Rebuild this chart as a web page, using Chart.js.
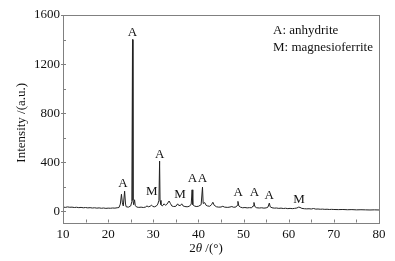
<!DOCTYPE html>
<html><head><meta charset="utf-8">
<script src="https://cdn.jsdelivr.net/npm/chart.js@4/dist/chart.umd.min.js"></script>
<style>html,body{margin:0;padding:0;background:#fff}canvas{display:block}</style>
</head><body>
<canvas id="c" width="395" height="261"></canvas>
<script>
// 2theta positions (degrees)
const twoTheta = [10,10.5,11,11.5,12,12.5,13,13.5,14,14.5,15,15.5,16,16.5,17,17.5,18,18.5,19,19.5,20,20.5,21,21.5,22,22.4,22.7,22.95,23.15,23.35,23.65,23.85,24.0,24.5,25.0,25.25,25.4,25.5,25.65,25.85,26.0,26.3,26.8,27.3,27.8,28.3,28.6,28.9,29.3,29.6,29.9,30.3,30.7,31.0,31.25,31.4,31.5,31.7,32.0,32.4,32.7,33.0,33.5,33.8,34.1,34.5,35.0,35.4,35.6,36.0,36.3,36.6,37.0,37.5,38.0,38.4,38.6,38.75,39.1,39.5,40.0,40.6,40.9,41.05,41.4,41.7,42.0,42.5,42.9,43.2,43.5,44.0,44.5,45.0,45.4,45.8,46.5,47.0,47.4,47.8,48.3,48.6,48.75,48.95,49.3,49.8,50.3,50.8,51.3,51.8,52.1,52.3,52.5,52.9,53.5,54.0,54.5,55.0,55.4,55.7,55.9,56.3,56.8,57.3,57.8,58.3,58.8,59.3,59.8,60.3,60.8,61.3,61.8,62.2,62.5,62.9,63.5,64.0,64.5,65.0,65.5,66.0,66.5,67,67.5,68,68.5,69,69.5,70,71,72,73,74,75,76,77,78,79,80];
// intensity (a.u.)
const intensity = [36,33,37,34,35,32,34,31,33,30,32,29,31,28,30,27,29,26,28,25,27,26,28,27,30,32,60,140,70,45,165,60,38,35,45,80,1400,90,55,95,50,36,33,35,32,36,45,38,42,52,40,38,45,60,90,410,90,55,45,62,50,58,85,65,45,40,42,62,50,48,62,45,40,38,42,60,176,55,45,40,42,55,198,65,72,50,45,42,55,75,50,38,35,36,42,35,33,36,40,34,36,50,82,45,35,30,32,29,31,30,45,73,40,30,28,30,27,29,35,68,38,30,27,28,25,27,24,26,23,25,23,25,28,35,33,25,22,21,22,20,24,19,20,18,19,17,18,16,17,16,15,16,14,15,13,14,13,12,13,12];
// peak labels
const peakText = ['A','A','M','A','M','A','A','A','A','A','M'];
const peakX    = [23.3,25.4,29.65,31.4,35.9,38.65,40.9,48.8,52.4,55.7,62.3];
const peakY    = [225,1460,163,461,141,271,271,155,155,128,95];
// axis ticks
const xTicks = [10,20,30,40,50,60,70,80];
const xMinor = [15,25,35,45,55,65,75];
const yTicks = [0,400,800,1200,1600];
const yMinor = [200,600,1000,1400];
const legendLines = ['A: anhydrite','M: magnesioferrite'];

const serif = "'Liberation Serif','Times New Roman',serif";
const pts = twoTheta.map((x,i)=>({x:x,y:intensity[i]}));

const deco = {
  id:'deco',
  afterDraw(chart){
    const ctx = chart.ctx, a = chart.chartArea;
    const xs = chart.scales.x, ys = chart.scales.y;
    ctx.save();
    ctx.strokeStyle = '#808080'; ctx.lineWidth = 1;
    ctx.strokeRect(Math.round(a.left)+0.5, Math.round(a.top)+0.5, Math.round(a.right-a.left), Math.round(a.bottom-a.top));
    ctx.beginPath();
    xTicks.concat(xMinor).forEach(v=>{const p=Math.round(xs.getPixelForValue(v))+0.5; ctx.moveTo(p,a.bottom); ctx.lineTo(p,a.bottom-3);});
    yTicks.forEach(v=>{const p=Math.round(ys.getPixelForValue(v))+0.5; ctx.moveTo(a.left-2,p); ctx.lineTo(a.left+3,p);});
    yMinor.forEach(v=>{const p=Math.round(ys.getPixelForValue(v))+0.5; ctx.moveTo(a.left,p); ctx.lineTo(a.left+3,p);});
    ctx.stroke();
    ctx.fillStyle = '#111';
    ctx.font = '13px '+serif;
    ctx.textAlign='center'; ctx.textBaseline='middle';
    peakText.forEach((t,i)=>ctx.fillText(t, xs.getPixelForValue(peakX[i]), ys.getPixelForValue(peakY[i])));
    ctx.textAlign='left';
    legendLines.forEach((t,i)=>ctx.fillText(t, 273, 31+i*17));
    // x title: 2θ/(°)
    const parts=[['2','13px '+serif],['θ','italic 13px '+serif],[' /(°)','13px '+serif]];
    let w=0; parts.forEach(p=>{ctx.font=p[1]; w+=ctx.measureText(p[0]).width;});
    let x0=206 - w/2;
    parts.forEach(p=>{ctx.font=p[1]; ctx.fillText(p[0],x0,249); x0+=ctx.measureText(p[0]).width;});
    // y title
    ctx.font='13px '+serif; ctx.textAlign='center';
    ctx.translate(22,(a.top+a.bottom)/2+4); ctx.rotate(-Math.PI/2);
    ctx.fillText('Intensity /(a.u.)',0,0);
    ctx.restore();
  }
};

new Chart(document.getElementById('c'),{
  type:'line',
  data:{datasets:[{data:pts,borderColor:'#222',borderWidth:1,pointRadius:0,tension:0,fill:false}]},
  options:{
    responsive:false, animation:false,
    layout:{padding:{top:15,right:16,left:0,bottom:0}},
    plugins:{legend:{display:false},tooltip:{enabled:false}},
    scales:{
      x:{type:'linear',min:10,max:80,
        afterFit(s){s.height=38.5;},
        afterBuildTicks(s){s.ticks=xTicks.map(v=>({value:v}));},
        grid:{display:false,drawTicks:false},border:{display:false},
        ticks:{color:'#111',font:{family:serif,size:13},padding:4,maxRotation:0,autoSkip:false,callback:v=>String(v)}},
      y:{type:'linear',min:-90,max:1600,
        afterFit(s){s.width=63;},
        afterBuildTicks(s){s.ticks=yTicks.map(v=>({value:v}));},
        grid:{display:false,drawTicks:false},border:{display:false},
        ticks:{color:'#111',font:{family:serif,size:13},padding:3,callback:v=>String(v)}}
    }
  },
  plugins:[deco]
});
</script>
</body></html>
